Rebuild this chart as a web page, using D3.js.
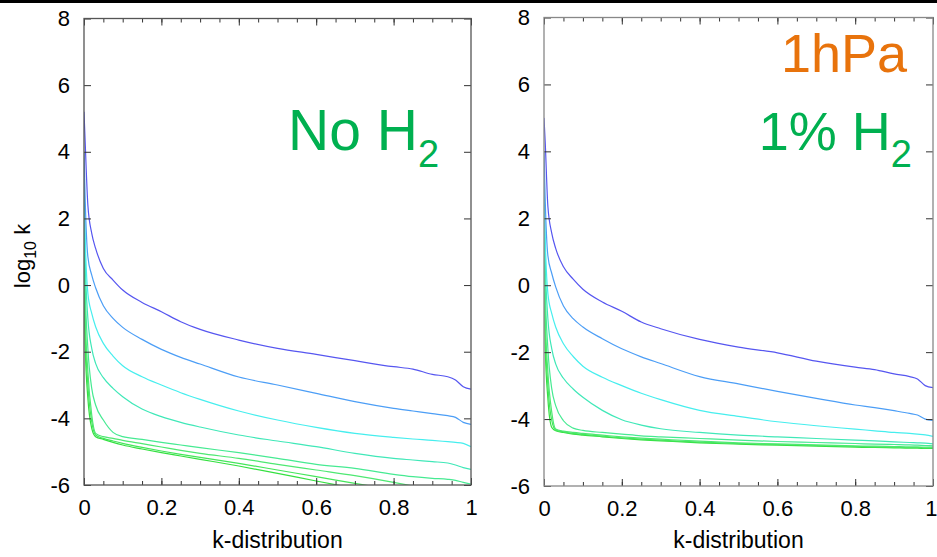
<!DOCTYPE html>
<html>
<head>
<meta charset="utf-8">
<script src="https://cdn.jsdelivr.net/npm/d3@7/dist/d3.min.js"></script>
<style>
  body { margin: 0; background: #fff; }
  text { font-family: "Liberation Sans", Arial, sans-serif; }
</style>
</head>
<body>
<div id="chart"></div>
<script>
// k grid shared by all curves
const kGrid = [0, 0.003, 0.01, 0.02, 0.03, 0.05, 0.075, 0.1, 0.15, 0.2, 0.25, 0.3, 0.4, 0.5, 0.6, 0.7, 0.8, 0.85, 0.9, 0.94, 0.96, 0.98, 1.0];

// left panel: no H2
const noH2_1 = [5.2, 4.3, 2.4, 1.55, 1.1, 0.5, 0.15, -0.15, -0.52, -0.8, -1.1, -1.33, -1.65, -1.9, -2.08, -2.27, -2.45, -2.52, -2.68, -2.75, -2.85, -3.05, -3.12];
const noH2_2 = [4.0, 2.6, 0.85, 0.3, -0.08, -0.62, -1.0, -1.27, -1.63, -1.93, -2.17, -2.37, -2.76, -3.0, -3.25, -3.5, -3.7, -3.78, -3.86, -3.92, -3.97, -4.12, -4.18];
const noH2_3 = [3.2, 1.5, -0.25, -0.85, -1.25, -1.75, -2.13, -2.42, -2.75, -3.0, -3.23, -3.43, -3.78, -4.05, -4.27, -4.45, -4.57, -4.62, -4.66, -4.7, -4.72, -4.75, -4.85];
const noH2_4 = [2.6, 0.8, -1.0, -1.9, -2.35, -2.78, -3.1, -3.35, -3.72, -3.95, -4.12, -4.26, -4.5, -4.68, -4.85, -5.05, -5.2, -5.25, -5.3, -5.34, -5.4, -5.48, -5.53];
const noH2_5 = [2.0, 0.0, -1.9, -3.1, -3.6, -4.05, -4.42, -4.55, -4.63, -4.72, -4.8, -4.88, -5.03, -5.2, -5.38, -5.5, -5.68, -5.75, -5.8, -5.83, -5.86, -5.92, -5.97];
const noH2_6 = [1.6, -0.8, -2.6, -3.9, -4.45, -4.55, -4.6, -4.66, -4.76, -4.86, -4.96, -5.05, -5.2, -5.38, -5.55, -5.72, -5.92, -6.03, null, null, null, null, null];
const noH2_7 = [1.2, -1.3, -3.0, -4.1, -4.5, -4.6, -4.68, -4.75, -4.87, -4.98, -5.08, -5.17, -5.35, -5.55, -5.75, -5.95, -6.15, null, null, null, null, null, null];
const noH2_8 = [0.8, -1.8, -3.4, -4.3, -4.55, -4.63, -4.72, -4.8, -4.92, -5.03, -5.13, -5.23, -5.43, -5.65, -5.88, -6.1, null, null, null, null, null, null, null];

// right panel: 1% H2
const h2_1 = [5.0, 4.3, 2.35, 1.55, 1.1, 0.55, 0.18, -0.12, -0.5, -0.78, -1.1, -1.3, -1.62, -1.85, -2.02, -2.27, -2.45, -2.52, -2.65, -2.73, -2.8, -3.0, -3.06];
const h2_2 = [4.0, 2.6, 0.88, 0.35, -0.05, -0.62, -1.0, -1.25, -1.6, -1.9, -2.14, -2.34, -2.73, -2.95, -3.17, -3.38, -3.58, -3.66, -3.75, -3.83, -3.88, -4.0, -4.04];
const h2_3 = [3.2, 1.5, -0.25, -0.85, -1.25, -1.75, -2.13, -2.42, -2.75, -3.0, -3.23, -3.42, -3.74, -3.92, -4.08, -4.2, -4.3, -4.35, -4.4, -4.43, -4.45, -4.47, -4.52];
const h2_4 = [2.6, 0.8, -1.0, -1.9, -2.35, -2.78, -3.1, -3.35, -3.74, -4.02, -4.18, -4.29, -4.4, -4.48, -4.53, -4.58, -4.63, -4.65, -4.68, -4.7, -4.71, -4.72, -4.74];
const h2_5 = [2.0, 0.0, -1.9, -3.1, -3.6, -4.05, -4.27, -4.34, -4.4, -4.45, -4.5, -4.53, -4.58, -4.63, -4.67, -4.7, -4.73, -4.75, -4.76, -4.77, -4.78, -4.79, -4.8];
const h2_6 = [1.6, -0.8, -2.6, -3.8, -4.3, -4.36, -4.4, -4.43, -4.48, -4.53, -4.57, -4.6, -4.66, -4.71, -4.74, -4.77, -4.8, -4.81, -4.82, -4.83, -4.83, -4.84, -4.84];
const h2_7 = [1.2, -1.3, -3.0, -4.05, -4.33, -4.38, -4.43, -4.46, -4.51, -4.56, -4.6, -4.63, -4.69, -4.73, -4.76, -4.79, -4.82, -4.83, -4.84, -4.85, -4.85, -4.86, -4.86];
const h2_8 = [0.8, -1.8, -3.4, -4.25, -4.35, -4.4, -4.45, -4.48, -4.53, -4.58, -4.62, -4.65, -4.71, -4.75, -4.78, -4.81, -4.84, -4.85, -4.86, -4.87, -4.87, -4.88, -4.88];

const lineColors = ["#5656f0", "#4c9ef6", "#46eeee", "#40e8b8", "#46ea92", "#4ee872", "#44e65a", "#34e040"];
const yTicks = [-6, -4, -2, 0, 2, 4, 6, 8];
const xTicks = [0, 0.2, 0.4, 0.6, 0.8, 1];

const W = 937, H = 557;

const svg = d3.select("#chart")
  .append("svg")
    .attr("width", W)
    .attr("height", H);

svg.append("rect").attr("width", W).attr("height", H).attr("fill", "#fff");
svg.append("rect").attr("width", W).attr("height", 3).attr("fill", "#000");

function panel(id, series, box, frameColor){
  const x = d3.scaleLinear().domain([0, 1]).range([box.x0, box.x1]);
  const y = d3.scaleLinear().domain([-6, 8]).range([box.y1, box.y0]);
  const g = svg.append("g");

  g.append("clipPath").attr("id", id)
    .append("rect")
      .attr("x", box.x0).attr("y", box.y0)
      .attr("width", box.x1 - box.x0).attr("height", box.y1 - box.y0);

  const line = d3.line()
    .defined(d => d[1] != null)
    .x(d => x(d[0]))
    .y(d => y(d[1]))
    .curve(d3.curveMonotoneX);

  // draw green ones first so blue stays on top
  g.append("g").attr("clip-path", `url(#${id})`)
    .selectAll("path")
    .data(series.map((s, i) => ({vals: s, color: lineColors[i]})).reverse())
    .join("path")
      .attr("fill", "none")
      .attr("stroke", d => d.color)
      .attr("stroke-width", 1.2)
      .attr("d", d => line(kGrid.map((k, j) => [k, d.vals[j]])));

  const minor = d3.range(0, 1.0001, 0.05);

  const axes = [
    d3.axisBottom(x).tickValues(xTicks).tickSize(-7).tickPadding(14).tickFormat(d3.format("~g")),
    d3.axisTop(x).tickValues(xTicks).tickSize(-7).tickFormat(""),
    d3.axisLeft(y).tickValues(yTicks).tickSize(-7).tickPadding(14).tickFormat(d => String(d)),
    d3.axisRight(y).tickValues(yTicks).tickSize(-7).tickFormat("")
  ];
  const pos = [
    `translate(0,${box.y1})`, `translate(0,${box.y0})`,
    `translate(${box.x0},0)`, `translate(${box.x1},0)`
  ];
  axes.forEach((a, i) => {
    const ax = g.append("g").attr("transform", pos[i]).call(a);
    ax.select(".domain").remove();
    ax.selectAll("line").attr("stroke", "#333");
    ax.selectAll("text").attr("fill", "#000").attr("font-size", 22)
      .attr("font-family", "Liberation Sans, Arial, sans-serif");
  });

  // minor ticks on x
  [[d3.axisBottom(x), box.y1], [d3.axisTop(x), box.y0]].forEach(([a, yy]) => {
    const ax = g.append("g").attr("transform", `translate(0,${yy})`)
      .call(a.tickValues(minor).tickSize(-4).tickFormat(""));
    ax.select(".domain").remove();
    ax.selectAll("line").attr("stroke", "#333");
  });

  g.append("rect")
    .attr("x", box.x0).attr("y", box.y0)
    .attr("width", box.x1 - box.x0).attr("height", box.y1 - box.y0)
    .attr("fill", "none")
    .attr("stroke", frameColor)
    .attr("stroke-width", 1.3);

  g.append("text")
    .attr("x", (box.x0 + box.x1) / 2)
    .attr("y", 548)
    .attr("text-anchor", "middle")
    .attr("font-size", 23)
    .text("k-distribution");

  return {x, y, g};
}

panel("clipL", [noH2_1, noH2_2, noH2_3, noH2_4, noH2_5, noH2_6, noH2_7, noH2_8],
  {x0: 84, x1: 471, y0: 18.5, y1: 485}, "#555");
const right = panel("clipR", [h2_1, h2_2, h2_3, h2_4, h2_5, h2_6, h2_7, h2_8],
  {x0: 544, x1: 933, y0: 17.5, y1: 486}, "#888");

// last x label sits on the page edge, keep it inside
right.g.selectAll(".tick text").filter(d => d === 1).attr("text-anchor", "end").attr("dx", 4);

// y axis title
const yl = svg.append("text")
  .attr("transform", "translate(30,256) rotate(-90)")
  .attr("text-anchor", "middle")
  .attr("font-size", 22);
yl.append("tspan").text("log");
yl.append("tspan").attr("font-size", 16).attr("dy", 6).text("10");
yl.append("tspan").attr("dy", -6).text(" k");

// hidden second title, only a sliver shows
svg.append("clipPath").attr("id", "sliver")
  .append("rect").attr("x", 480).attr("y", 205).attr("width", 16).attr("height", 19);
const y2 = svg.append("text")
  .attr("clip-path", "url(#sliver)")
  .attr("transform", "translate(491,232) rotate(-90)")
  .attr("text-anchor", "middle")
  .attr("font-size", 22)
  .attr("fill", "#7fa8c8");
y2.append("tspan").text("log");
y2.append("tspan").attr("font-size", 16).attr("dy", 6).text("10");
y2.append("tspan").attr("dy", -6).text(" k");

// big annotations
const bigFont = "Carlito, Lato, 'Open Sans', sans-serif";
const green = "#00b050";

const t1 = svg.append("text")
  .attr("x", 288).attr("y", 150)
  .attr("font-family", bigFont).attr("font-size", 57).attr("fill", green);
t1.append("tspan").text("No H");
t1.append("tspan").attr("font-size", 38).attr("dy", 17).text("2");

svg.append("text")
  .attr("x", 907).attr("y", 72)
  .attr("text-anchor", "end")
  .attr("font-family", bigFont).attr("font-size", 54).attr("fill", "#e8730c")
  .text("1hPa");

const t2 = svg.append("text")
  .attr("x", 912).attr("y", 150)
  .attr("text-anchor", "end")
  .attr("font-family", bigFont).attr("font-size", 54).attr("fill", green);
t2.append("tspan").text("1% H");
t2.append("tspan").attr("font-size", 38).attr("dy", 17).text("2");
</script>
</body>
</html>
